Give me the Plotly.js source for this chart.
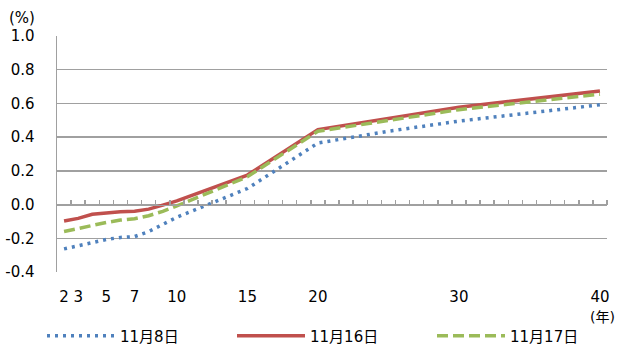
<!DOCTYPE html>
<html>
<head>
<meta charset="utf-8">
<script src="https://cdn.plot.ly/plotly-3.0.1.min.js"></script>
<style>html,body{margin:0;padding:0;background:#fff;}#chart{width:618px;height:347px;}</style>
</head>
<body>
<div id="chart"></div>
<script>
const years = [2, 3, 4, 5, 6, 7, 8, 9, 10, 15, 20, 25, 30, 40];
const nov8  = [-0.263, -0.245, -0.228, -0.207, -0.195, -0.190, -0.160, -0.120, -0.075, 0.095, 0.365, 0.435, 0.495, 0.592];
const nov16 = [-0.098, -0.082, -0.058, -0.050, -0.043, -0.040, -0.027, -0.003, 0.022, 0.175, 0.445, 0.511, 0.577, 0.674];
const nov17 = [-0.160, -0.141, -0.121, -0.106, -0.092, -0.084, -0.066, -0.040, -0.008, 0.165, 0.435, 0.500, 0.563, 0.655];
const seriesNames = ['11月8日', '11月16日', '11月17日'];
const xTickVals = [2, 3, 5, 7, 10, 15, 20, 30, 40];
const yTickVals = [-0.4, -0.2, 0.0, 0.2, 0.4, 0.6, 0.8, 1.0];

const FONT = 'DejaVu Sans, Noto Sans CJK JP, sans-serif';
const GRID = '#a0a0a0';
const minorTicks = [];
for (let v = 2.5; v <= 40.5; v += 1) minorTicks.push(v);

const traces = [
  {x: years, y: nov8, name: seriesNames[0], mode: 'lines', legend: 'legend',
   line: {color: '#4F81BD', width: 3.5, dash: '3px,5px'}},
  {x: years, y: nov16, name: seriesNames[1], mode: 'lines', legend: 'legend2',
   line: {color: '#C0504D', width: 3.5}},
  {x: years, y: nov17, name: seriesNames[2], mode: 'lines', legend: 'legend3',
   line: {color: '#9BBB59', width: 3.5, dash: '11px,5px'}}
];

function legendAt(px) {
  return {orientation: 'h', xref: 'container', yref: 'container',
          x: (px - 5) / 618, xanchor: 'left', y: 1 - 336 / 347, yanchor: 'middle',
          bgcolor: 'rgba(0,0,0,0)', itemwidth: 68, font: {size: 15}};
}

const layout = {
  width: 618, height: 347,
  margin: {l: 57, r: 11, t: 36, b: 74.5},
  paper_bgcolor: '#fff', plot_bgcolor: '#fff',
  font: {family: FONT, size: 15, color: '#000'},
  showlegend: true,
  legend: legendAt(47),
  legend2: legendAt(237),
  legend3: legendAt(437),
  xaxis: {
    range: [1.5, 40.5], anchor: 'free', position: 0.4 / 1.4,
    showline: true, linecolor: GRID, linewidth: 1.5,
    showgrid: false, zeroline: false,
    tickmode: 'array', tickvals: xTickVals, ticktext: xTickVals.map(String),
    ticks: '', ticklabelstandoff: 78,
    minor: {tickmode: 'array', tickvals: minorTicks, ticks: 'inside', ticklen: 5, tickcolor: GRID, tickwidth: 1.5},
    automargin: false, fixedrange: true
  },
  yaxis: {
    range: [-0.4, 1.0],
    showline: true, linecolor: GRID, linewidth: 1.5,
    showgrid: true, gridcolor: GRID, gridwidth: 1.5, zeroline: false,
    tickmode: 'array', tickvals: yTickVals, ticktext: yTickVals.map(v => v.toFixed(1)),
    ticks: '', ticklabelstandoff: 18,
    automargin: false, fixedrange: true
  },
  annotations: [
    {text: '(%)', xref: 'paper', yref: 'paper', x: -0.064, y: 1.076, xanchor: 'center', yanchor: 'middle', showarrow: false, font: {size: 15}},
    {text: '(年)', xref: 'paper', yref: 'paper', x: (602 - 57) / 550, y: (272.5 - 318) / 236.5, xanchor: 'center', yanchor: 'middle', showarrow: false, font: {size: 14}}
  ]
};

Plotly.newPlot('chart', traces, layout, {staticPlot: true, displayModeBar: false});
</script>
</body>
</html>
